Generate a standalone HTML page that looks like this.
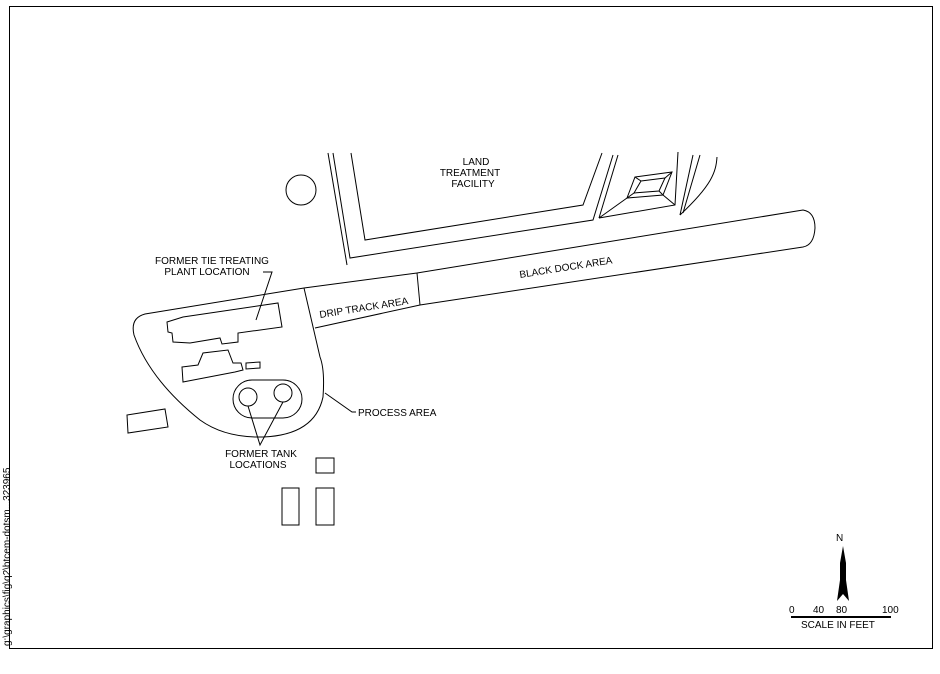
<!DOCTYPE html>
<html><head><style>
html,body{margin:0;padding:0;background:#fff;}
svg{display:block;}
text{font-family:"Liberation Sans",sans-serif;font-size:10px;fill:#000;}
</style></head><body>
<svg width="940" height="674" viewBox="0 0 940 674" xmlns="http://www.w3.org/2000/svg">
<rect x="0" y="0" width="940" height="674" fill="#fff"/>
<g fill="none" stroke="#000" stroke-width="1">
<rect x="9.5" y="6.5" width="923" height="642"/>
<circle cx="301" cy="190" r="15"/>
<polyline points="328,153 347,265"/>
<polyline points="333,153 350,258 593,220 613,155"/>
<polyline points="351,153 365,240 583,205 602,153"/>
<polyline points="618,155 599,218"/>
<polyline points="678,152 675,205 599,218"/>
<polyline points="693,155 680,215"/>
<polyline points="700,155 683,213"/>
<path d="M717,157 C716,172 712,185 680,215"/>
<!-- basin -->
<polygon points="635,177 672,172 663,195 627,198"/>
<polygon points="641,181 665,178 659,191 634,193"/>
<line x1="635" y1="177" x2="641" y2="181"/><line x1="672" y1="172" x2="665" y2="178"/>
<line x1="663" y1="195" x2="659" y2="191"/><line x1="627" y1="198" x2="634" y2="193"/>
<polyline points="627,198 599,218"/><polyline points="663,195 675,205"/>
<!-- dock strip -->
<path d="M417,273 L803,210 Q815,212 815,228 Q814,245 803,247 L420,305 L315,328"/>
<line x1="417" y1="273" x2="420" y2="305"/>
<path d="M417,273 L304,288 L145,314 Q130,318 134,335 Q150,380 200,420 Q225,438 263,437 Q315,435 323,397 Q325,370 320,357 L304,288"/>
<polygon points="167,322 183,317 278,303 282,327 238,333 238,342 222,344 220,338 190,343 173,342 172,333 168,332"/>
<polygon points="182,367 198,365 203,353 228,350 233,363 241,363 243,370 235,372 183,382"/>
<polygon points="246,363 260,362 260,368 246,369"/>
<rect x="233" y="380" width="69" height="38" rx="19"/>
<circle cx="248" cy="397" r="9"/>
<circle cx="283" cy="393" r="9"/>
<polygon points="127,415 165,409 168,427 128,433"/>
<rect x="316" y="458" width="18" height="15"/>
<rect x="282" y="488" width="17" height="37"/>
<rect x="316" y="488" width="18" height="37"/>
<polyline points="263,272 272,272 256,320"/>
<polyline points="325,393 352,412 356,412"/>
<polyline points="248,406 260,445 283,402"/>
<line x1="791" y1="617" x2="891" y2="617" stroke-width="2"/>
</g>
<polygon points="843,546 846,563 846,580 849,601 843,594 837,601 840,580 840,563" fill="#000"/>
<text x="836" y="541" font-size="14">N</text>
<text x="789" y="613" font-size="9">0</text>
<text x="813" y="613" font-size="9">40</text>
<text x="836" y="613" font-size="9">80</text>
<text x="882" y="613" font-size="9">100</text>
<text x="801" y="628" font-size="10">SCALE IN FEET</text>
<text x="476" y="165" text-anchor="middle">LAND</text>
<text x="470" y="176" text-anchor="middle">TREATMENT</text>
<text x="473" y="187" text-anchor="middle">FACILITY</text>
<text x="212" y="264" text-anchor="middle">FORMER TIE TREATING</text>
<text x="207" y="275" text-anchor="middle">PLANT LOCATION</text>
<text x="358" y="416">PROCESS AREA</text>
<text x="261" y="457" text-anchor="middle">FORMER TANK</text>
<text x="258" y="468" text-anchor="middle">LOCATIONS</text>
<text x="0" y="0" transform="translate(320,318) rotate(-9)">DRIP TRACK AREA</text>
<text x="0" y="0" transform="translate(520,278) rotate(-9)">BLACK DOCK AREA</text>
<text x="0" y="0" font-size="6" transform="translate(10,646) rotate(-90)">g:\graphics\fig\q2\btcem-dotsm...323965</text>
</svg>
</body></html>
